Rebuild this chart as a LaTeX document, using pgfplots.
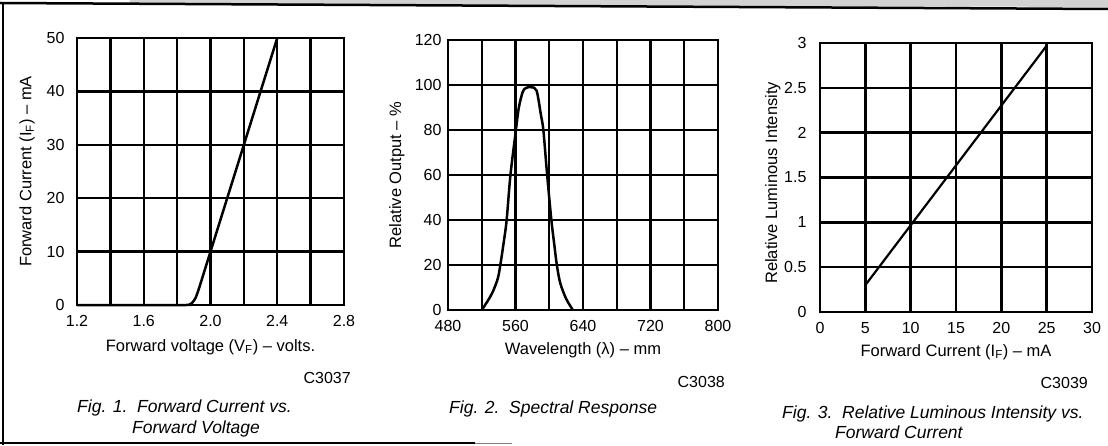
\documentclass[border=0pt]{standalone}
\usepackage{fontspec}
\setmainfont{Liberation Sans}
\usepackage{pgfplots}
\pgfplotsset{compat=1.18}

% common look of the three datasheet grids
\pgfplotsset{
  sheet/.style={
    scale only axis,
    anchor=south west,
    axis line style={line width=2.5pt},
    grid=both,
    major grid style={line width=2.4pt, black},
    minor grid style={line width=2.4pt, black},
    major tick length=0pt, minor tick length=0pt,
    tick label style={font=\fontsize{16}{19}\selectfont},
    label style={font=\fontsize{16.5}{20}\selectfont},
    /pgf/number format/assume math mode=true,
    xticklabel style={yshift=-7pt},
    clip=false,
  },
  curve/.style={line width=2.5pt, black, line join=round, mark=none},
}

\begin{document}
\begin{tikzpicture}
\useasboundingbox (0pt,0pt) rectangle (1108pt,445pt);

% frame of the page
\fill[gray!35] (130pt,445pt) -- (1108pt,445pt) -- (1108pt,438pt) -- (130pt,441pt) -- cycle;
\draw[line width=2.5pt] (0pt,442pt) -- (1108pt,436pt);
\draw[line width=2pt] (3pt,443pt) -- (3pt,0pt);
\draw[line width=2pt] (0pt,2pt) -- (475pt,2pt);
\draw[line width=1pt, gray] (475pt,2pt) -- (512pt,2pt);

% Fig. 1
\begin{axis}[sheet,
  at={(77pt,140pt)}, width=267pt, height=267pt,
  xmin=1.2, xmax=2.8, ymin=0, ymax=50,
  xtick={1.2,1.6,2.0,2.4,2.8}, minor xtick={1.4,1.8,2.2,2.6},
  ytick={0,10,...,50},
  x tick label style={/pgf/number format/fixed zerofill, /pgf/number format/precision=1},
  yticklabel style={xshift=-9pt},
  xlabel={Forward voltage (V\textsubscript{F}) -- volts.},
  ylabel={Forward Current (I\textsubscript{F}) -- mA},
  xlabel style={at={(axis description cs:0.5,-0.157)}, anchor=center},
  ylabel style={at={(axis description cs:-0.187,0.5)}, anchor=center},
]
\addplot[curve, smooth, tension=0.4] coordinates {
  (1.2,0) (1.85,0) (1.87,0.05) (1.89,0.4) (1.91,1.3) (1.93,3) (1.96,6) (2.0,10) (2.4,50)};
\end{axis}

% Fig. 2
\begin{axis}[sheet,
  at={(448pt,135pt)}, width=270pt, height=270pt,
  xmin=480, xmax=800, ymin=0, ymax=120,
  xtick={480,560,...,800}, minor xtick={520,600,680,760},
  ytick={0,20,...,120},
  yticklabel style={xshift=-3pt},
  xlabel={Wavelength (λ) -- mm},
  ylabel={Relative Output -- \%},
  xlabel style={at={(axis description cs:0.5,-0.148)}, anchor=center},
  ylabel style={at={(axis description cs:-0.189,0.5)}, anchor=center},
]
\addplot[curve, smooth, tension=0.5] coordinates {
  (520,0) (527,4) (533,8) (539,14) (542,20) (546,30) (549.5,40) (554,60)
  (560.5,80) (563.5,89) (567,95) (570,98) (575,99) (582,98.8) (585,97.5)
  (587,94) (590,87) (593,80) (597.5,60) (602.5,40) (606,29) (609,20)
  (613,12) (620,5) (628,0)};
\end{axis}

% Fig. 3
\begin{axis}[sheet,
  at={(820pt,133pt)}, width=272pt, height=269pt,
  xmin=0, xmax=30, ymin=0, ymax=3,
  xtick={0,5,...,30},
  ytick={0,0.5,1,1.5,2,2.5,3},
  yticklabel style={xshift=-10pt},
  xlabel={Forward Current (I\textsubscript{F}) -- mA},
  ylabel={Relative Luminous Intensity},
  xlabel style={at={(axis description cs:0.5,-0.149)}, anchor=center},
  ylabel style={at={(axis description cs:-0.173,0.48)}, anchor=center},
]
\addplot[curve, line width=2.2pt] coordinates {(5,0.3) (25,2.97)};
\end{axis}

% drawing codes and captions
\begin{scope}[every node/.style={inner sep=0pt}]
\node[anchor=base east, font=\fontsize{16}{19}\selectfont] at (351pt,62pt) {C3037};
\node[anchor=base east, font=\fontsize{16}{19}\selectfont] at (725pt,58pt) {C3038};
\node[anchor=base east, font=\fontsize{16}{19}\selectfont] at (1088pt,57pt) {C3039};

\node[anchor=base west, font=\fontsize{17.5}{21}\selectfont\itshape] at (77pt,33pt) {Fig. 1.\ \ Forward Current vs.};
\node[anchor=base west, font=\fontsize{17.5}{21}\selectfont\itshape] at (132pt,12pt) {Forward Voltage};
\node[anchor=base west, font=\fontsize{17.5}{21}\selectfont\itshape] at (449pt,32pt) {Fig. 2.\ \ Spectral Response};
\node[anchor=base west, font=\fontsize{17.5}{21}\selectfont\itshape] at (782pt,27pt) {Fig. 3.\ \ Relative Luminous Intensity vs.};
\node[anchor=base west, font=\fontsize{17.5}{21}\selectfont\itshape] at (835pt,7pt) {Forward Current};
\end{scope}
\end{tikzpicture}
\end{document}
